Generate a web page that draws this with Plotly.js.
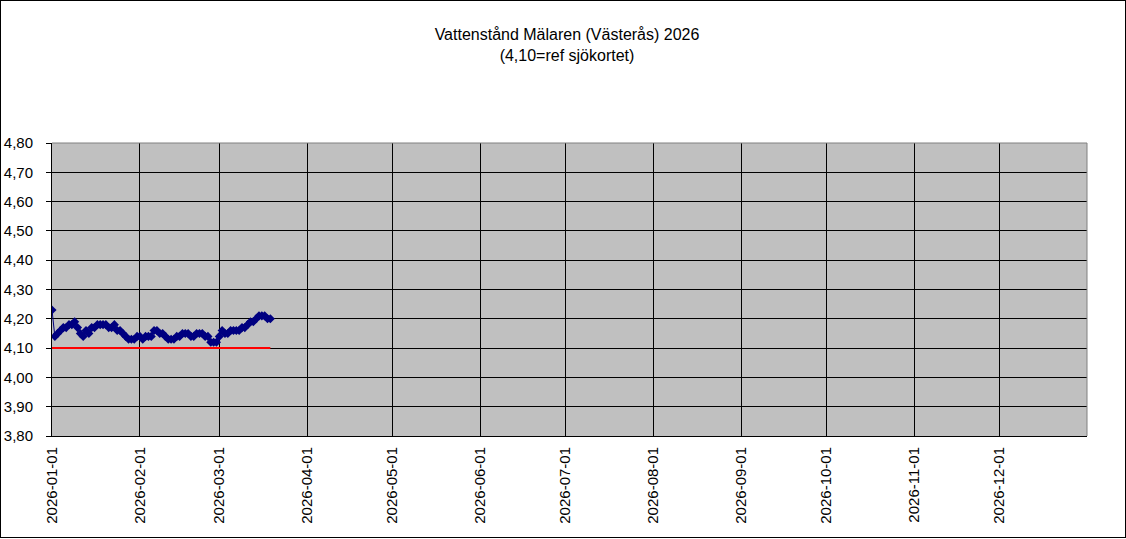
<!DOCTYPE html>
<html>
<head>
<meta charset="utf-8">
<script src="https://cdn.plot.ly/plotly-3.0.1.min.js"></script>
<style>
  html, body { margin: 0; padding: 0; background: #fff; }
  #wrap { position: relative; width: 1126px; height: 539px; }
  #chart { width: 1126px; height: 539px; }
  #frame { position: absolute; left: 0; top: 0; width: 1126px; height: 538px; box-sizing: border-box; border: 1px solid #000; pointer-events: none; }
</style>
</head>
<body>
<div id="wrap"><div id="chart"></div><div id="frame"></div></div>
<script>
// Daily water level readings starting 2026-01-01
const startDate = '2026-01-01';
const levels = [
  4.23, 4.14, 4.15, 4.16, 4.17, 4.17, 4.18, 4.18, 4.19, 4.17,
  4.15, 4.14, 4.16, 4.15, 4.17, 4.17, 4.18, 4.18, 4.18, 4.18,
  4.17, 4.17, 4.18, 4.16, 4.16, 4.15, 4.14, 4.13, 4.13, 4.13,
  4.14, 4.14, 4.13, 4.14, 4.14, 4.14, 4.16, 4.16, 4.15, 4.15,
  4.14, 4.13, 4.13, 4.13, 4.14, 4.14, 4.15, 4.15, 4.15, 4.14,
  4.14, 4.15, 4.15, 4.15, 4.14, 4.14, 4.12, 4.12, 4.12, 4.14,
  4.16, 4.15, 4.15, 4.16, 4.16, 4.16, 4.16, 4.17, 4.17, 4.18,
  4.19, 4.19, 4.20, 4.21, 4.21, 4.21, 4.20, 4.20
];
const refDates = ['2026-01-01', '2026-03-19'];
const refValues = [4.10, 4.10];
const monthTicks = ['2026-01-01','2026-02-01','2026-03-01','2026-04-01','2026-05-01','2026-06-01',
                    '2026-07-01','2026-08-01','2026-09-01','2026-10-01','2026-11-01','2026-12-01'];
const yTicks = [3.8, 3.9, 4.0, 4.1, 4.2, 4.3, 4.4, 4.5, 4.6, 4.7, 4.8];

function dayString(i) {
  const d = new Date(startDate + 'T00:00:00Z');
  d.setUTCDate(d.getUTCDate() + i);
  return d.toISOString().slice(0, 10);
}
const dates = levels.map((_, i) => dayString(i));

const font = 'Liberation Sans, Arial, sans-serif';

const traces = [
  {
    x: refDates, y: refValues, type: 'scatter', mode: 'lines',
    line: { color: '#FF0000', width: 2 }, hoverinfo: 'skip'
  },
  {
    x: dates, y: levels, type: 'scatter', mode: 'lines+markers',
    line: { color: '#000080', width: 1 },
    marker: { symbol: 'diamond', size: 7, color: '#000080' },
    hoverinfo: 'skip'
  }
];

const layout = {
  width: 1126, height: 539,
  margin: { l: 52, r: 39, t: 143, b: 103 },
  paper_bgcolor: '#ffffff',
  plot_bgcolor: '#C0C0C0',
  separators: ', ',
  showlegend: false,
  font: { family: font, size: 15, color: '#000' },
  title: {
    text: 'Vattenstånd Mälaren (Västerås) 2026<br>(4,10=ref sjökortet)',
    font: { family: font, size: 16, color: '#000' },
    x: 567 / 1126, xref: 'container', xanchor: 'center',
    y: 1 - 40 / 539, yref: 'container', yanchor: 'middle'
  },
  xaxis: {
    type: 'date',
    range: ['2026-01-01', '2027-01-01'],
    tickvals: monthTicks,
    ticktext: monthTicks,
    tickangle: -90,
    ticks: 'outside', ticklen: 4, tickcolor: 'rgba(0,0,0,0)',
    showgrid: true, gridcolor: '#000', gridwidth: 1,
    showline: true, linecolor: '#000', linewidth: 1,
    zeroline: false,
    tickfont: { family: font, size: 15, color: '#000' }
  },
  yaxis: {
    range: [3.8, 4.8],
    tickvals: yTicks,
    tickformat: '.2f',
    ticks: 'outside', ticklen: 5, tickcolor: '#000', tickwidth: 1,
    ticklabelstandoff: 10,
    showgrid: true, gridcolor: '#000', gridwidth: 1,
    showline: true, linecolor: '#000', linewidth: 1,
    zeroline: false,
    tickfont: { family: font, size: 15, color: '#000' }
  },
  shapes: [
    { type: 'line', xref: 'paper', yref: 'paper', x0: 0, x1: 1, y0: 1, y1: 1, line: { color: '#808080', width: 1 }, layer: 'above' },
    { type: 'line', xref: 'paper', yref: 'paper', x0: 1, x1: 1, y0: 0, y1: 1, line: { color: '#808080', width: 1 }, layer: 'above' }
  ]
};

Plotly.newPlot('chart', traces, layout, { displayModeBar: false, staticPlot: true });
</script>
</body>
</html>
